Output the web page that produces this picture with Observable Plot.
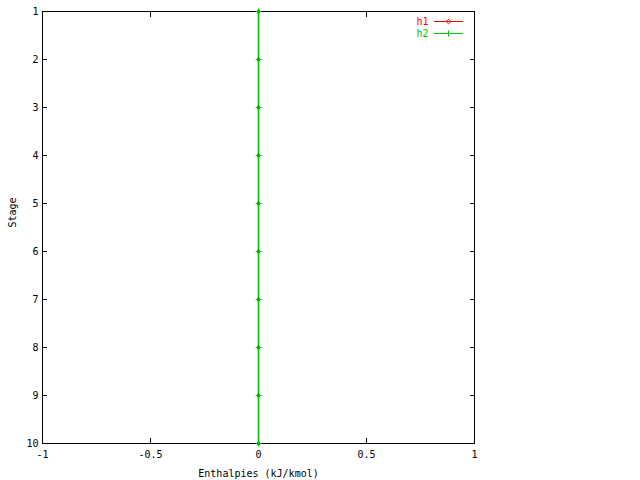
<!DOCTYPE html>
<html><head><meta charset="utf-8">
<script src="https://cdn.jsdelivr.net/npm/d3@7"></script>
<script src="https://cdn.jsdelivr.net/npm/@observablehq/plot@0.6"></script>
<style>body{margin:0;background:#fff}</style>
</head><body><div id="chart"></div>
<script>
const stages = [1,2,3,4,5,6,7,8,9,10];
const h1 = [0,0,0,0,0,0,0,0,0,0];
const h2 = [0,0,0,0,0,0,0,0,0,0];
const xTicks = [-1,-0.5,0,0.5,1];
const yTicks = [1,2,3,4,5,6,7,8,9,10];
const seriesNames = ["h1","h2"];
const colors = ["#ff0000","#00c000"];
const symbols = ["diamond","plus"];
const xLabel = "Enthalpies (kJ/kmol)";
const yLabel = "Stage";

const d1 = stages.map((s,i)=>({stage:s, h:h1[i]}));
const d2 = stages.map((s,i)=>({stage:s, h:h2[i]}));
const font = "DejaVu Sans Mono, monospace";
const fmt = d => String(d);
const mL = 42, mR = 166, mT = 11, mB = 37, W = 640, H = 480;

const plot = Plot.plot({
  width: W, height: H,
  marginLeft: mL, marginRight: mR, marginTop: mT, marginBottom: mB,
  style: {fontFamily: font, fontSize: "10px", background: "#fff", color: "#000"},
  x: {domain: [-1, 1]},
  y: {domain: [1, 10], reverse: true},
  marks: [
    Plot.frame({stroke: "#000"}),
    Plot.axisX({anchor: "bottom", ticks: xTicks, tickSize: -5, tickPadding: 12, tickFormat: fmt, label: null, fontSize: 10}),
    Plot.axisX({anchor: "top", ticks: xTicks, tickSize: -5, tickFormat: () => "", label: null}),
    Plot.axisY({anchor: "left", ticks: yTicks, tickSize: -5, tickPadding: 9, tickFormat: fmt, label: null, fontSize: 10}),
    Plot.axisY({anchor: "right", ticks: yTicks, tickSize: -5, tickFormat: () => "", label: null}),
    Plot.text([xLabel], {frameAnchor: "bottom", dy: 30, lineAnchor: "middle", fontSize: 10}),
    Plot.text([yLabel], {frameAnchor: "left", dx: -30, rotate: -90, lineAnchor: "middle", fontSize: 10}),
    Plot.line(d1, {x: "h", y: "stage", stroke: colors[0], strokeWidth: 1}),
    Plot.dot(d1, {x: "h", y: "stage", symbol: symbols[0], r: 1.5, stroke: colors[0], strokeWidth: 1}),
    Plot.line(d2, {x: "h", y: "stage", stroke: colors[1], strokeWidth: 1.5}),
    Plot.dot(d2, {x: "h", y: "stage", symbol: symbols[1], r: 2, stroke: colors[1], strokeWidth: 1}),
    Plot.text([seriesNames[0]], {frameAnchor: "top-right", dx: -46, dy: 10, lineAnchor: "middle", textAnchor: "end", fill: colors[0], fontSize: 10}),
    Plot.text([seriesNames[1]], {frameAnchor: "top-right", dx: -46, dy: 22, lineAnchor: "middle", textAnchor: "end", fill: colors[1], fontSize: 10})
  ]
});
// legend samples (line + symbol)
const svg = d3.select(plot);
const gLeg = svg.append("g");
seriesNames.forEach((name, i) => {
  const yy = mT + 10 + 12 * i + 0.5;
  const x0 = W - mR - 40, x1 = W - mR - 11, xm = (x0 + x1) / 2;
  gLeg.append("line").attr("x1", x0).attr("x2", x1).attr("y1", yy).attr("y2", yy)
    .attr("stroke", colors[i]).attr("stroke-width", 1);
  gLeg.append("path").attr("transform", `translate(${xm},${yy})`)
    .attr("d", d3.symbol(symbols[i] === "diamond" ? d3.symbolDiamond2 : d3.symbolPlus, 14)())
    .attr("fill", "none").attr("stroke", colors[i]);
});
document.getElementById("chart").appendChild(plot);
</script>
</body></html>
